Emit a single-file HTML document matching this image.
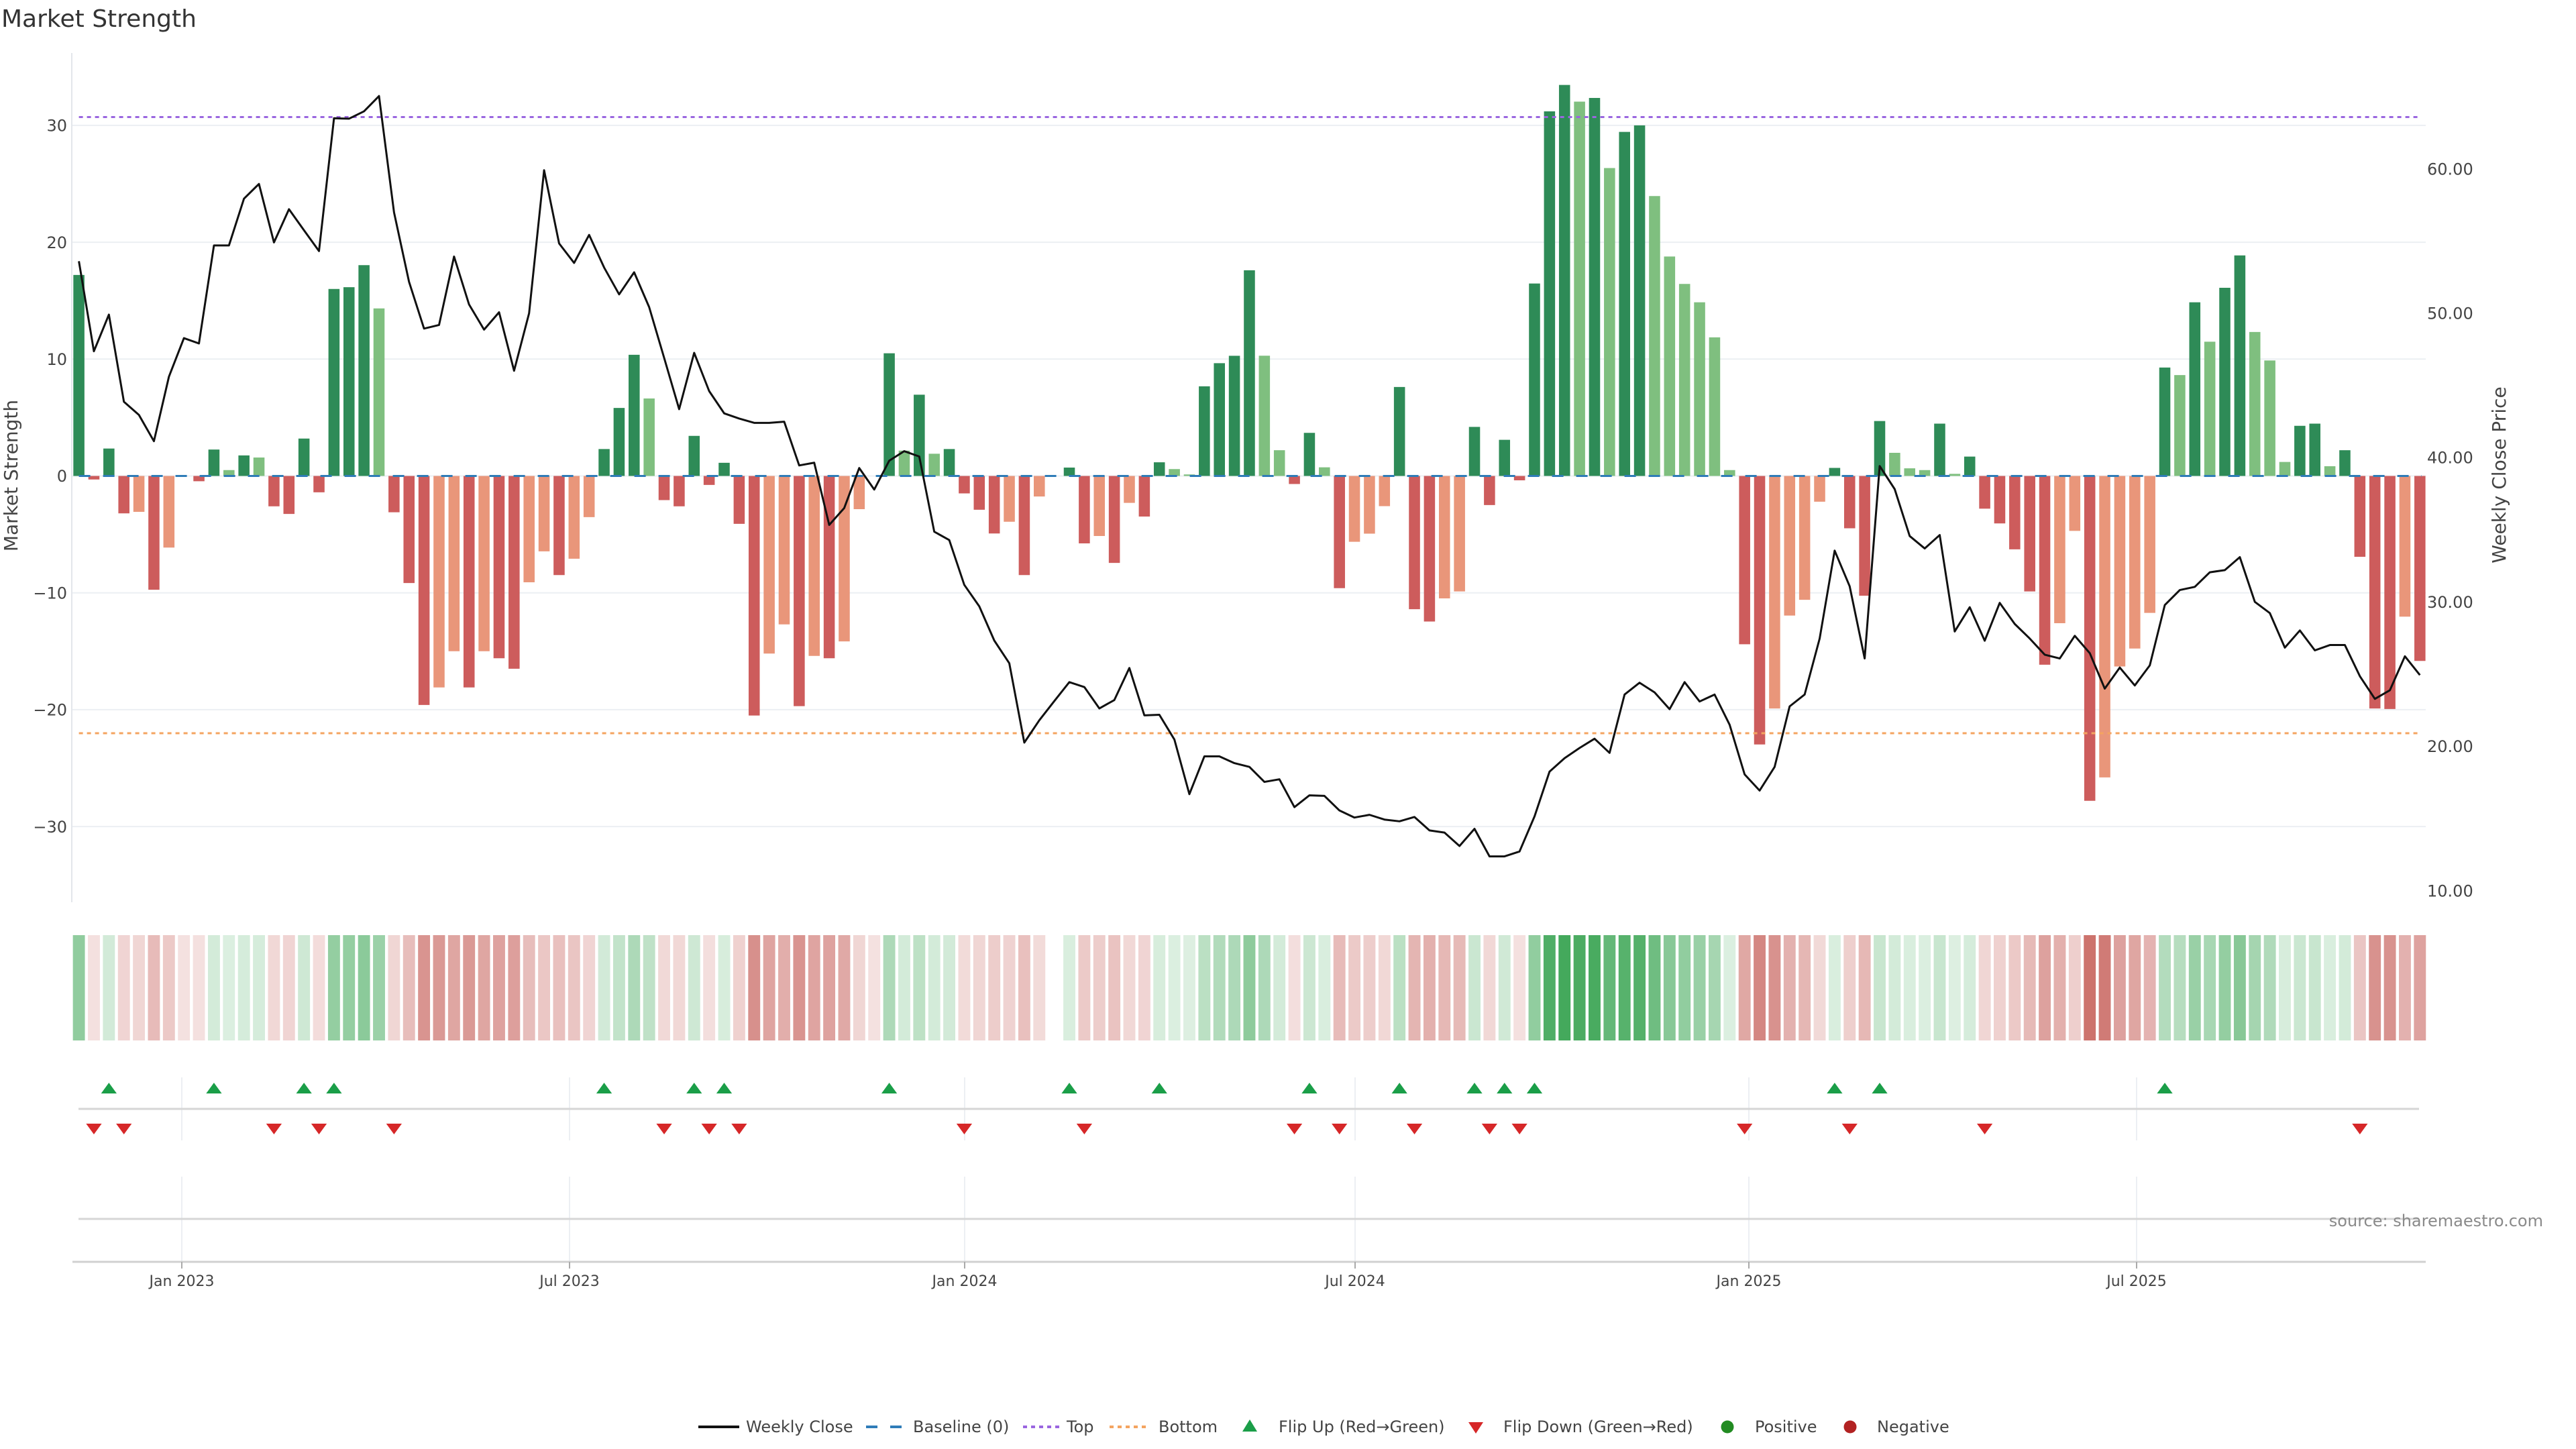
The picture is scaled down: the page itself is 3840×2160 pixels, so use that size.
<!DOCTYPE html>
<html><head><meta charset="utf-8"><style>
html,body{margin:0;padding:0;background:#fff;}
svg{display:block;font-family:"DejaVu Sans","Liberation Sans",sans-serif;}
.G{stroke:#2e8b57}.g{stroke:#7fbf7f}.R{stroke:#cd5c5c}.r{stroke:#e9967a}
.hg{stroke:rgb(66,168,90)}.hr{stroke:rgb(196,90,84)}
.tk{font-size:24px;fill:#444}
.lg{font-size:24px;fill:#444}
</style></head><body>
<svg width="3840" height="2160" viewBox="0 0 3840 2160" xmlns="http://www.w3.org/2000/svg">
<rect width="3840" height="2160" fill="#fff"/>
<text x="2" y="40" font-size="36" fill="#333">Market Strength</text>

<!-- gridlines -->
<g stroke="#eceff3" stroke-width="2">
<line x1="108" y1="186.9" x2="3616" y2="186.9"/>
<line x1="108" y1="361.1" x2="3616" y2="361.1"/>
<line x1="108" y1="535.3" x2="3616" y2="535.3"/>
<line x1="108" y1="709.5" x2="3616" y2="709.5"/>
<line x1="108" y1="883.7" x2="3616" y2="883.7"/>
<line x1="108" y1="1057.9" x2="3616" y2="1057.9"/>
<line x1="108" y1="1232.1" x2="3616" y2="1232.1"/>
</g>
<line x1="107" y1="79" x2="107" y2="1345" stroke="#e3e6eb" stroke-width="2"/>

<!-- left ticks -->
<g class="tk" text-anchor="end">
<text x="100" y="195.6">30</text>
<text x="100" y="369.8">20</text>
<text x="100" y="544">10</text>
<text x="100" y="718.2">0</text>
<text x="100" y="892.4">−10</text>
<text x="100" y="1066.6">−20</text>
<text x="100" y="1240.8">−30</text>
</g>
<!-- right ticks -->
<g class="tk">
<text x="3618" y="260.3">60.00</text>
<text x="3618" y="475.5">50.00</text>
<text x="3618" y="690.7">40.00</text>
<text x="3618" y="905.9">30.00</text>
<text x="3618" y="1121.1">20.00</text>
<text x="3618" y="1336.3">10.00</text>
</g>
<text transform="translate(26,709) rotate(-90)" text-anchor="middle" font-size="28" fill="#444">Market Strength</text>
<text transform="translate(3735,708) rotate(-90)" text-anchor="middle" font-size="28" fill="#444">Weekly Close Price</text>

<!-- bars -->
<g transform="translate(95.23,709.5) scale(22.37,-17.42)" fill="none" stroke-width="0.74">
<path class="G" d="M1 0V17.2M3 0V2.35M10 0V2.26M12 0V1.76M16 0V3.2M18 0V16M19 0V16.15M20 0V18.04M36 0V2.3M37 0V5.82M38 0V10.37M42 0V3.43M44 0V1.13M55 0V10.5M57 0V6.95M59 0V2.3M67 0V0.72M73 0V1.17M76 0V7.67M77 0V9.65M78 0V10.28M79 0V17.6M83 0V3.69M89 0V7.61M94 0V4.2M96 0V3.09M98 0V16.47M99 0V31.2M100 0V33.46M102 0V32.35M104 0V29.44M105 0V30M118 0V0.69M121 0V4.7M125 0V4.48M127 0V1.66M140 0V9.28M142 0V14.86M144 0V16.1M145 0V18.87M149 0V4.29M150 0V4.48M152 0V2.2"/>
<path class="g" d="M11 0V0.5M13 0V1.58M21 0V14.34M39 0V6.63M56 0V2.17M58 0V1.9M74 0V0.59M75 0V0.13M80 0V10.29M81 0V2.2M84 0V0.74M101 0V32.03M103 0V26.35M106 0V23.95M107 0V18.78M108 0V16.43M109 0V14.86M110 0V11.86M111 0V0.5M122 0V1.98M123 0V0.65M124 0V0.5M126 0V0.18M141 0V8.63M143 0V11.49M146 0V12.32M147 0V9.88M148 0V1.2M151 0V0.83"/>
<path class="R" d="M2 0V-0.3M4 0V-3.2M6 0V-9.74M9 0V-0.45M14 0V-2.6M15 0V-3.25M17 0V-1.4M22 0V-3.11M23 0V-9.16M24 0V-19.6M27 0V-18.1M29 0V-15.6M30 0V-16.5M33 0V-8.48M40 0V-2.07M41 0V-2.6M43 0V-0.77M45 0V-4.1M46 0V-20.5M49 0V-19.7M51 0V-15.6M60 0V-1.49M61 0V-2.89M62 0V-4.92M64 0V-8.48M68 0V-5.77M70 0V-7.44M72 0V-3.47M82 0V-0.69M85 0V-9.6M90 0V-11.4M91 0V-12.46M95 0V-2.49M97 0V-0.37M112 0V-14.4M113 0V-22.98M119 0V-4.48M120 0V-10.25M128 0V-2.8M129 0V-4.06M130 0V-6.28M131 0V-9.88M132 0V-16.15M135 0V-27.8M153 0V-6.92M154 0V-19.9M155 0V-19.94M157 0V-15.83"/>
<path class="r" d="M5 0V-3.07M7 0V-6.13M25 0V-18.1M26 0V-15M28 0V-15M31 0V-9.1M32 0V-6.45M34 0V-7.08M35 0V-3.52M47 0V-15.2M48 0V-12.7M50 0V-15.4M52 0V-14.16M53 0V-2.84M63 0V-3.92M65 0V-1.76M69 0V-5.14M71 0V-2.3M86 0V-5.63M87 0V-4.94M88 0V-2.58M92 0V-10.48M93 0V-9.88M114 0V-19.9M115 0V-11.95M116 0V-10.6M117 0V-2.2M133 0V-12.6M134 0V-4.7M136 0V-25.8M137 0V-16.3M138 0V-14.77M139 0V-11.72M156 0V-12.04"/>
</g>

<!-- baseline, top, bottom -->
<line x1="117.6" y1="709.5" x2="3610" y2="709.5" stroke="#2f7cb8" stroke-width="3" stroke-dasharray="17 19"/>
<line x1="117.6" y1="174.5" x2="3606" y2="174.5" stroke="#9a66e0" stroke-width="3" stroke-dasharray="6 6"/>
<line x1="117.6" y1="1093" x2="3606" y2="1093" stroke="#f4a460" stroke-width="3" stroke-dasharray="6 6"/>

<!-- price line -->
<g transform="translate(95.23,1542.8) scale(22.37,-21.52)">
<polyline fill="none" stroke="#111" stroke-width="3" vector-effect="non-scaling-stroke" stroke-linejoin="round" points="1,53.6 2,47.36 3,49.9 4,43.86 5,42.95 6,41.13 7,45.6 8,48.27 9,47.9 10,54.69 11,54.69 12,57.93 13,58.95 14,54.9 15,57.2 16,55.74 17,54.3 18,63.5 19,63.47 20,63.98 21,65.04 22,56.98 23,52.17 24,48.93 25,49.18 26,53.92 27,50.6 28,48.86 29,50.06 30,46.01 31,49.99 32,59.9 33,54.83 34,53.48 35,55.42 36,53.16 37,51.3 38,52.83 39,50.42 40,46.9 41,43.35 42,47.25 43,44.6 44,43.06 45,42.7 46,42.4 47,42.4 48,42.48 49,39.45 50,39.64 51,35.33 52,36.5 53,39.27 54,37.78 55,39.78 56,40.44 57,40.07 58,34.86 59,34.28 60,31.18 61,29.69 62,27.32 63,25.75 64,20.25 65,21.8 66,23.13 67,24.44 68,24.1 69,22.62 70,23.2 71,25.42 72,22.14 73,22.18 74,20.47 75,16.68 76,19.3 77,19.3 78,18.83 79,18.57 80,17.53 81,17.71 82,15.78 83,16.6 84,16.56 85,15.55 86,15.06 87,15.25 88,14.92 89,14.8 90,15.1 91,14.17 92,14.02 93,13.09 94,14.28 95,12.37 96,12.37 97,12.71 98,15.14 99,18.24 100,19.17 101,19.88 102,20.52 103,19.54 104,23.58 105,24.4 106,23.73 107,22.57 108,24.44 109,23.1 110,23.58 111,21.49 112,18.05 113,16.93 114,18.57 115,22.76 116,23.58 117,27.46 118,33.55 119,31.08 120,26.08 121,39.41 122,37.81 123,34.56 124,33.7 125,34.63 126,27.95 127,29.63 128,27.31 129,29.93 130,28.47 131,27.46 132,26.34 133,26.08 134,27.65 135,26.45 136,23.99 137,25.45 138,24.21 139,25.6 140,29.78 141,30.82 142,31.04 143,32.05 144,32.2 145,33.1 146,30 147,29.22 148,26.83 149,28.02 150,26.64 151,27.01 152,27.01 153,24.85 154,23.28 155,23.88 156,26.23 157,24.93"/>
</g>

<!-- heatmap -->
<g transform="translate(95.23,0) scale(22.37,1)" fill="none" stroke-width="0.8">
<path class="hg" d="M1 1394V1551" stroke-opacity=".59"/>
<path class="hr" d="M2 1394V1551" stroke-opacity=".19"/>
<path class="hg" d="M3 1394V1551" stroke-opacity=".24"/>
<path class="hr" d="M4 1394V1551" stroke-opacity=".26"/>
<path class="hr" d="M5 1394V1551" stroke-opacity=".25"/>
<path class="hr" d="M6 1394V1551" stroke-opacity=".41"/>
<path class="hr" d="M7 1394V1551" stroke-opacity=".33"/>
<path class="hr" d="M8 1394V1551" stroke-opacity=".18"/>
<path class="hr" d="M9 1394V1551" stroke-opacity=".19"/>
<path class="hg" d="M10 1394V1551" stroke-opacity=".23"/>
<path class="hg" d="M11 1394V1551" stroke-opacity=".19"/>
<path class="hg" d="M12 1394V1551" stroke-opacity=".22"/>
<path class="hg" d="M13 1394V1551" stroke-opacity=".22"/>
<path class="hr" d="M14 1394V1551" stroke-opacity=".24"/>
<path class="hr" d="M15 1394V1551" stroke-opacity=".26"/>
<path class="hg" d="M16 1394V1551" stroke-opacity=".26"/>
<path class="hr" d="M17 1394V1551" stroke-opacity=".21"/>
<path class="hg" d="M18 1394V1551" stroke-opacity=".57"/>
<path class="hg" d="M19 1394V1551" stroke-opacity=".57"/>
<path class="hg" d="M20 1394V1551" stroke-opacity=".61"/>
<path class="hg" d="M21 1394V1551" stroke-opacity=".53"/>
<path class="hr" d="M22 1394V1551" stroke-opacity=".25"/>
<path class="hr" d="M23 1394V1551" stroke-opacity=".40"/>
<path class="hr" d="M24 1394V1551" stroke-opacity=".65"/>
<path class="hr" d="M25 1394V1551" stroke-opacity=".62"/>
<path class="hr" d="M26 1394V1551" stroke-opacity=".54"/>
<path class="hr" d="M27 1394V1551" stroke-opacity=".62"/>
<path class="hr" d="M28 1394V1551" stroke-opacity=".54"/>
<path class="hr" d="M29 1394V1551" stroke-opacity=".56"/>
<path class="hr" d="M30 1394V1551" stroke-opacity=".58"/>
<path class="hr" d="M31 1394V1551" stroke-opacity=".40"/>
<path class="hr" d="M32 1394V1551" stroke-opacity=".34"/>
<path class="hr" d="M33 1394V1551" stroke-opacity=".38"/>
<path class="hr" d="M34 1394V1551" stroke-opacity=".35"/>
<path class="hr" d="M35 1394V1551" stroke-opacity=".26"/>
<path class="hg" d="M36 1394V1551" stroke-opacity=".24"/>
<path class="hg" d="M37 1394V1551" stroke-opacity=".32"/>
<path class="hg" d="M38 1394V1551" stroke-opacity=".43"/>
<path class="hg" d="M39 1394V1551" stroke-opacity=".34"/>
<path class="hr" d="M40 1394V1551" stroke-opacity=".23"/>
<path class="hr" d="M41 1394V1551" stroke-opacity=".24"/>
<path class="hg" d="M42 1394V1551" stroke-opacity=".26"/>
<path class="hr" d="M43 1394V1551" stroke-opacity=".20"/>
<path class="hg" d="M44 1394V1551" stroke-opacity=".21"/>
<path class="hr" d="M45 1394V1551" stroke-opacity=".28"/>
<path class="hr" d="M46 1394V1551" stroke-opacity=".67"/>
<path class="hr" d="M47 1394V1551" stroke-opacity=".55"/>
<path class="hr" d="M48 1394V1551" stroke-opacity=".49"/>
<path class="hr" d="M49 1394V1551" stroke-opacity=".65"/>
<path class="hr" d="M50 1394V1551" stroke-opacity=".55"/>
<path class="hr" d="M51 1394V1551" stroke-opacity=".56"/>
<path class="hr" d="M52 1394V1551" stroke-opacity=".52"/>
<path class="hr" d="M53 1394V1551" stroke-opacity=".25"/>
<path class="hr" d="M54 1394V1551" stroke-opacity=".18"/>
<path class="hg" d="M55 1394V1551" stroke-opacity=".43"/>
<path class="hg" d="M56 1394V1551" stroke-opacity=".23"/>
<path class="hg" d="M57 1394V1551" stroke-opacity=".35"/>
<path class="hg" d="M58 1394V1551" stroke-opacity=".23"/>
<path class="hg" d="M59 1394V1551" stroke-opacity=".24"/>
<path class="hr" d="M60 1394V1551" stroke-opacity=".22"/>
<path class="hr" d="M61 1394V1551" stroke-opacity=".25"/>
<path class="hr" d="M62 1394V1551" stroke-opacity=".30"/>
<path class="hr" d="M63 1394V1551" stroke-opacity=".27"/>
<path class="hr" d="M64 1394V1551" stroke-opacity=".38"/>
<path class="hr" d="M65 1394V1551" stroke-opacity=".22"/>
<path class="hg" d="M67 1394V1551" stroke-opacity=".20"/>
<path class="hr" d="M68 1394V1551" stroke-opacity=".32"/>
<path class="hr" d="M69 1394V1551" stroke-opacity=".30"/>
<path class="hr" d="M70 1394V1551" stroke-opacity=".36"/>
<path class="hr" d="M71 1394V1551" stroke-opacity=".24"/>
<path class="hr" d="M72 1394V1551" stroke-opacity=".26"/>
<path class="hg" d="M73 1394V1551" stroke-opacity=".21"/>
<path class="hg" d="M74 1394V1551" stroke-opacity=".19"/>
<path class="hg" d="M75 1394V1551" stroke-opacity=".18"/>
<path class="hg" d="M76 1394V1551" stroke-opacity=".36"/>
<path class="hg" d="M77 1394V1551" stroke-opacity=".41"/>
<path class="hg" d="M78 1394V1551" stroke-opacity=".43"/>
<path class="hg" d="M79 1394V1551" stroke-opacity=".60"/>
<path class="hg" d="M80 1394V1551" stroke-opacity=".43"/>
<path class="hg" d="M81 1394V1551" stroke-opacity=".23"/>
<path class="hr" d="M82 1394V1551" stroke-opacity=".20"/>
<path class="hg" d="M83 1394V1551" stroke-opacity=".27"/>
<path class="hg" d="M84 1394V1551" stroke-opacity=".20"/>
<path class="hr" d="M85 1394V1551" stroke-opacity=".41"/>
<path class="hr" d="M86 1394V1551" stroke-opacity=".32"/>
<path class="hr" d="M87 1394V1551" stroke-opacity=".30"/>
<path class="hr" d="M88 1394V1551" stroke-opacity=".24"/>
<path class="hg" d="M89 1394V1551" stroke-opacity=".36"/>
<path class="hr" d="M90 1394V1551" stroke-opacity=".45"/>
<path class="hr" d="M91 1394V1551" stroke-opacity=".48"/>
<path class="hr" d="M92 1394V1551" stroke-opacity=".43"/>
<path class="hr" d="M93 1394V1551" stroke-opacity=".42"/>
<path class="hg" d="M94 1394V1551" stroke-opacity=".28"/>
<path class="hr" d="M95 1394V1551" stroke-opacity=".24"/>
<path class="hg" d="M96 1394V1551" stroke-opacity=".25"/>
<path class="hr" d="M97 1394V1551" stroke-opacity=".19"/>
<path class="hg" d="M98 1394V1551" stroke-opacity=".58"/>
<path class="hg" d="M99 1394V1551" stroke-opacity=".93"/>
<path class="hg" d="M100 1394V1551" stroke-opacity=".99"/>
<path class="hg" d="M101 1394V1551" stroke-opacity=".95"/>
<path class="hg" d="M102 1394V1551" stroke-opacity=".96"/>
<path class="hg" d="M103 1394V1551" stroke-opacity=".82"/>
<path class="hg" d="M104 1394V1551" stroke-opacity=".89"/>
<path class="hg" d="M105 1394V1551" stroke-opacity=".90"/>
<path class="hg" d="M106 1394V1551" stroke-opacity=".76"/>
<path class="hg" d="M107 1394V1551" stroke-opacity=".63"/>
<path class="hg" d="M108 1394V1551" stroke-opacity=".58"/>
<path class="hg" d="M109 1394V1551" stroke-opacity=".54"/>
<path class="hg" d="M110 1394V1551" stroke-opacity=".47"/>
<path class="hg" d="M111 1394V1551" stroke-opacity=".19"/>
<path class="hr" d="M112 1394V1551" stroke-opacity=".53"/>
<path class="hr" d="M113 1394V1551" stroke-opacity=".73"/>
<path class="hr" d="M114 1394V1551" stroke-opacity=".66"/>
<path class="hr" d="M115 1394V1551" stroke-opacity=".47"/>
<path class="hr" d="M116 1394V1551" stroke-opacity=".44"/>
<path class="hr" d="M117 1394V1551" stroke-opacity=".23"/>
<path class="hg" d="M118 1394V1551" stroke-opacity=".20"/>
<path class="hr" d="M119 1394V1551" stroke-opacity=".29"/>
<path class="hr" d="M120 1394V1551" stroke-opacity=".43"/>
<path class="hg" d="M121 1394V1551" stroke-opacity=".29"/>
<path class="hg" d="M122 1394V1551" stroke-opacity=".23"/>
<path class="hg" d="M123 1394V1551" stroke-opacity=".20"/>
<path class="hg" d="M124 1394V1551" stroke-opacity=".19"/>
<path class="hg" d="M125 1394V1551" stroke-opacity=".29"/>
<path class="hg" d="M126 1394V1551" stroke-opacity=".18"/>
<path class="hg" d="M127 1394V1551" stroke-opacity=".22"/>
<path class="hr" d="M128 1394V1551" stroke-opacity=".25"/>
<path class="hr" d="M129 1394V1551" stroke-opacity=".28"/>
<path class="hr" d="M130 1394V1551" stroke-opacity=".33"/>
<path class="hr" d="M131 1394V1551" stroke-opacity=".42"/>
<path class="hr" d="M132 1394V1551" stroke-opacity=".57"/>
<path class="hr" d="M133 1394V1551" stroke-opacity=".48"/>
<path class="hr" d="M134 1394V1551" stroke-opacity=".29"/>
<path class="hr" d="M135 1394V1551" stroke-opacity=".85"/>
<path class="hr" d="M136 1394V1551" stroke-opacity=".80"/>
<path class="hr" d="M137 1394V1551" stroke-opacity=".57"/>
<path class="hr" d="M138 1394V1551" stroke-opacity=".54"/>
<path class="hr" d="M139 1394V1551" stroke-opacity=".46"/>
<path class="hg" d="M140 1394V1551" stroke-opacity=".40"/>
<path class="hg" d="M141 1394V1551" stroke-opacity=".39"/>
<path class="hg" d="M142 1394V1551" stroke-opacity=".54"/>
<path class="hg" d="M143 1394V1551" stroke-opacity=".46"/>
<path class="hg" d="M144 1394V1551" stroke-opacity=".57"/>
<path class="hg" d="M145 1394V1551" stroke-opacity=".63"/>
<path class="hg" d="M146 1394V1551" stroke-opacity=".48"/>
<path class="hg" d="M147 1394V1551" stroke-opacity=".42"/>
<path class="hg" d="M148 1394V1551" stroke-opacity=".21"/>
<path class="hg" d="M149 1394V1551" stroke-opacity=".28"/>
<path class="hg" d="M150 1394V1551" stroke-opacity=".29"/>
<path class="hg" d="M151 1394V1551" stroke-opacity=".20"/>
<path class="hg" d="M152 1394V1551" stroke-opacity=".23"/>
<path class="hr" d="M153 1394V1551" stroke-opacity=".35"/>
<path class="hr" d="M154 1394V1551" stroke-opacity=".66"/>
<path class="hr" d="M155 1394V1551" stroke-opacity=".66"/>
<path class="hr" d="M156 1394V1551" stroke-opacity=".47"/>
<path class="hr" d="M157 1394V1551" stroke-opacity=".56"/>
</g>

<!-- marker panels -->
<g stroke="#eceff3" stroke-width="2">
<line x1="271" y1="1606" x2="271" y2="1700"/><line x1="849" y1="1606" x2="849" y2="1700"/>
<line x1="1438" y1="1606" x2="1438" y2="1700"/><line x1="2020" y1="1606" x2="2020" y2="1700"/>
<line x1="2607" y1="1606" x2="2607" y2="1700"/><line x1="3185" y1="1606" x2="3185" y2="1700"/>
<line x1="271" y1="1754" x2="271" y2="1880"/><line x1="849" y1="1754" x2="849" y2="1880"/>
<line x1="1438" y1="1754" x2="1438" y2="1880"/><line x1="2020" y1="1754" x2="2020" y2="1880"/>
<line x1="2607" y1="1754" x2="2607" y2="1880"/><line x1="3185" y1="1754" x2="3185" y2="1880"/>
</g>
<line x1="117" y1="1653" x2="3606" y2="1653" stroke="#d6d6d6" stroke-width="3"/>
<line x1="117" y1="1817" x2="3606" y2="1817" stroke="#d6d6d6" stroke-width="3"/>
<line x1="108" y1="1881" x2="3616" y2="1881" stroke="#d0d0d0" stroke-width="3"/>
<g stroke="#aaa" stroke-width="2">
<line x1="271" y1="1881" x2="271" y2="1891"/><line x1="849" y1="1881" x2="849" y2="1891"/>
<line x1="1438" y1="1881" x2="1438" y2="1891"/><line x1="2020" y1="1881" x2="2020" y2="1891"/>
<line x1="2607" y1="1881" x2="2607" y2="1891"/><line x1="3185" y1="1881" x2="3185" y2="1891"/>
</g>
<g transform="translate(95.23,0) scale(22.37,1)">
<path fill="#1a9e48" d="M2.48 1630h1.04l-.52-16zM9.48 1630h1.04l-.52-16zM15.48 1630h1.04l-.52-16zM17.48 1630h1.04l-.52-16zM35.48 1630h1.04l-.52-16zM41.48 1630h1.04l-.52-16zM43.48 1630h1.04l-.52-16zM54.48 1630h1.04l-.52-16zM66.48 1630h1.04l-.52-16zM72.48 1630h1.04l-.52-16zM82.48 1630h1.04l-.52-16zM88.48 1630h1.04l-.52-16zM93.48 1630h1.04l-.52-16zM95.48 1630h1.04l-.52-16zM97.48 1630h1.04l-.52-16zM117.48 1630h1.04l-.52-16zM120.48 1630h1.04l-.52-16zM139.48 1630h1.04l-.52-16z"/>
<path fill="#d62728" d="M1.48 1675h1.04l-.52 16zM3.48 1675h1.04l-.52 16zM13.48 1675h1.04l-.52 16zM16.48 1675h1.04l-.52 16zM21.48 1675h1.04l-.52 16zM39.48 1675h1.04l-.52 16zM42.48 1675h1.04l-.52 16zM44.48 1675h1.04l-.52 16zM59.48 1675h1.04l-.52 16zM67.48 1675h1.04l-.52 16zM81.48 1675h1.04l-.52 16zM84.48 1675h1.04l-.52 16zM89.48 1675h1.04l-.52 16zM94.48 1675h1.04l-.52 16zM96.48 1675h1.04l-.52 16zM111.48 1675h1.04l-.52 16zM118.48 1675h1.04l-.52 16zM127.48 1675h1.04l-.52 16zM152.48 1675h1.04l-.52 16z"/>
</g>

<!-- x labels -->
<g font-size="22" fill="#444" text-anchor="middle">
<text x="271" y="1917">Jan 2023</text>
<text x="849" y="1917">Jul 2023</text>
<text x="1438" y="1917">Jan 2024</text>
<text x="2020" y="1917">Jul 2024</text>
<text x="2607" y="1917">Jan 2025</text>
<text x="3185" y="1917">Jul 2025</text>
</g>
<text x="3791" y="1828" font-size="24" fill="#8a8a8a" text-anchor="end">source: sharemaestro.com</text>

<!-- legend -->
<line x1="1041" y1="2127" x2="1102" y2="2127" stroke="#111" stroke-width="4"/>
<text class="lg" x="1112" y="2135">Weekly Close</text>
<line x1="1291" y1="2127" x2="1344" y2="2127" stroke="#2f7cb8" stroke-width="4" stroke-dasharray="17 19"/>
<text class="lg" x="1361" y="2135">Baseline (0)</text>
<line x1="1525" y1="2127" x2="1580" y2="2127" stroke="#9a66e0" stroke-width="4" stroke-dasharray="6 6"/>
<text class="lg" x="1590" y="2135">Top</text>
<line x1="1654" y1="2127" x2="1710" y2="2127" stroke="#f4a460" stroke-width="4" stroke-dasharray="6 6"/>
<text class="lg" x="1727" y="2135">Bottom</text>
<path fill="#1a9e48" d="M1852 2134h22l-11-18z"/>
<text class="lg" x="1906" y="2135">Flip Up (Red→Green)</text>
<path fill="#d62728" d="M2189 2120h22l-11 17z"/>
<text class="lg" x="2241" y="2135">Flip Down (Green→Red)</text>
<circle cx="2575" cy="2127" r="9.5" fill="#228b22"/>
<text class="lg" x="2616" y="2135">Positive</text>
<circle cx="2758" cy="2127" r="9.5" fill="#b22222"/>
<text class="lg" x="2798" y="2135">Negative</text>
</svg>
</body></html>
